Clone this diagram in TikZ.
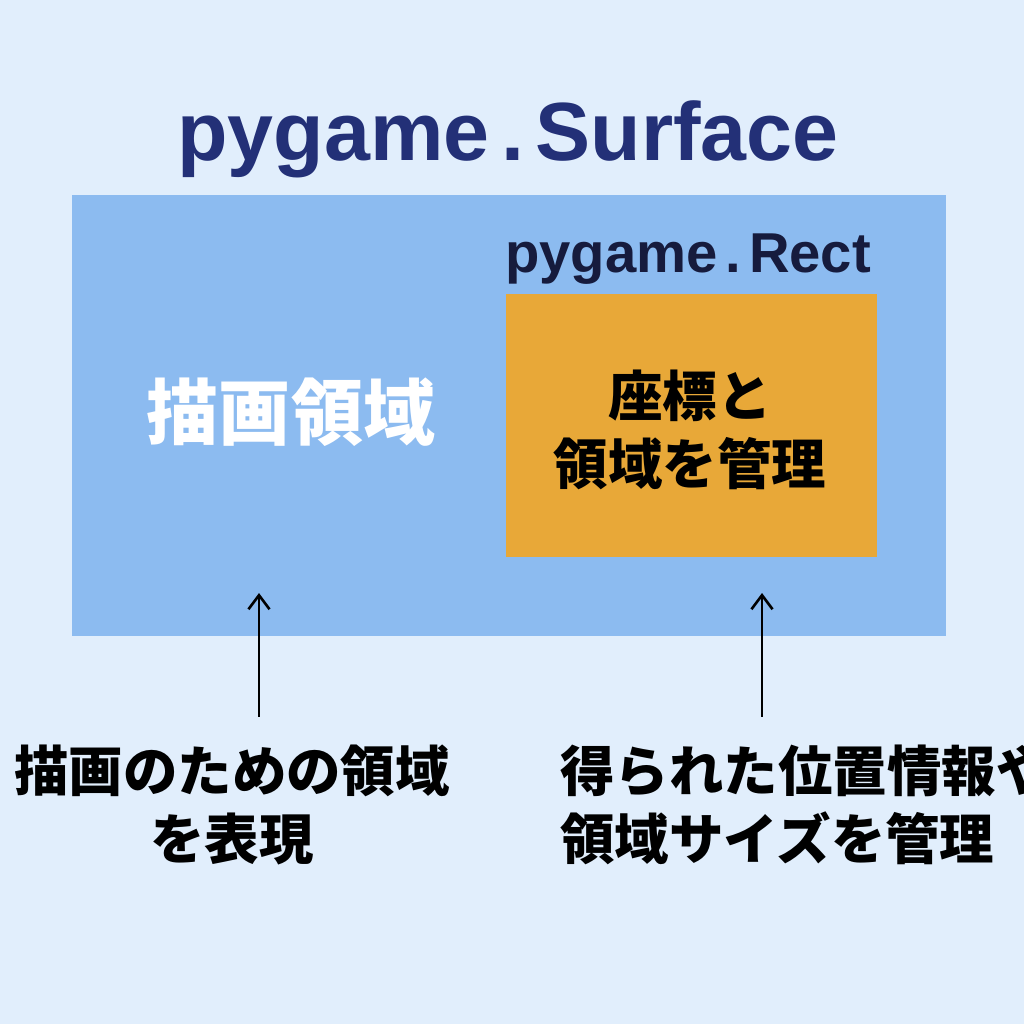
\documentclass[tikz,border=0pt]{standalone}
\usepackage{fontspec}
\setmainfont{Liberation Sans}
\newfontfamily\cjk{Noto Sans CJK JP}
\usetikzlibrary{arrows.meta, positioning}
\definecolor{bgBlue}{HTML}{E1EEFC}
\definecolor{surfBlue}{HTML}{8CBBF0}
\definecolor{rectOrange}{HTML}{E8A838}
\definecolor{titleNavy}{HTML}{233077}
\definecolor{rectNavy}{HTML}{161B3D}
\newcommand{\spdot}{\hspace{0.14em}.\hspace{0.14em}}

\begin{document}
\begin{tikzpicture}[
    x=0.02cm, y=-0.02cm,
    >={Straight Barb[length=8pt, width=12pt]},
    surface/.style={
        fill=surfBlue,
        draw=none,
        inner sep=0pt,
        minimum width=17.48cm,
        minimum height=8.82cm,
        anchor=north west
    },
    rectbox/.style={
        fill=rectOrange,
        draw=none,
        inner sep=0pt,
        minimum width=7.42cm,
        minimum height=5.26cm,
        anchor=north west
    },
    title/.style={font=\bfseries\fontsize{47}{52}\selectfont, text=titleNavy, inner sep=0pt},
    subtitle/.style={font=\bfseries\fontsize{32}{36}\selectfont, text=rectNavy, inner sep=0pt},
    caption/.style={font=\cjk\bfseries\fontsize{31}{38.5}\selectfont, text=black, inner sep=0pt},
    pointer/.style={draw=black, line width=1.5pt, ->}
]

% background and page size
\fill[bgBlue] (0,0) rectangle (1024,1024);
\useasboundingbox (0,0) rectangle (1024,1024);

\node[title, anchor=base] (surftitle) at (508,160) {pygame\spdot Surface};
\node[surface] (surface) at (72,195) {};
\node[subtitle, anchor=base west] (recttitle) at (505,272) {pygame\spdot Rect};
\node[rectbox] (rect) at (506,294) {};

\node[font=\cjk\bfseries\fontsize{41}{46}\selectfont, text=white, inner sep=0pt] (drawarea) at (291,412) {描画領域};
\node[caption, align=center] (recttext) at (690,430) {座標と\\領域を管理};

% captions below
\node[caption, align=center] (capleft) at (232,805) {描画のための領域\\を表現};
\node[caption, align=left, anchor=west] (capright) at (560,805) {得られた位置情報や\\領域サイズを管理};

\coordinate (tipleft) at (259,593);
\coordinate (tipright) at (762,593);
\draw[pointer] (capleft.north -| tipleft) ++(0,-28) -- (tipleft);
\draw[pointer] (capright.north -| tipright) ++(0,-28) -- (tipright);

\end{tikzpicture}
\end{document}
